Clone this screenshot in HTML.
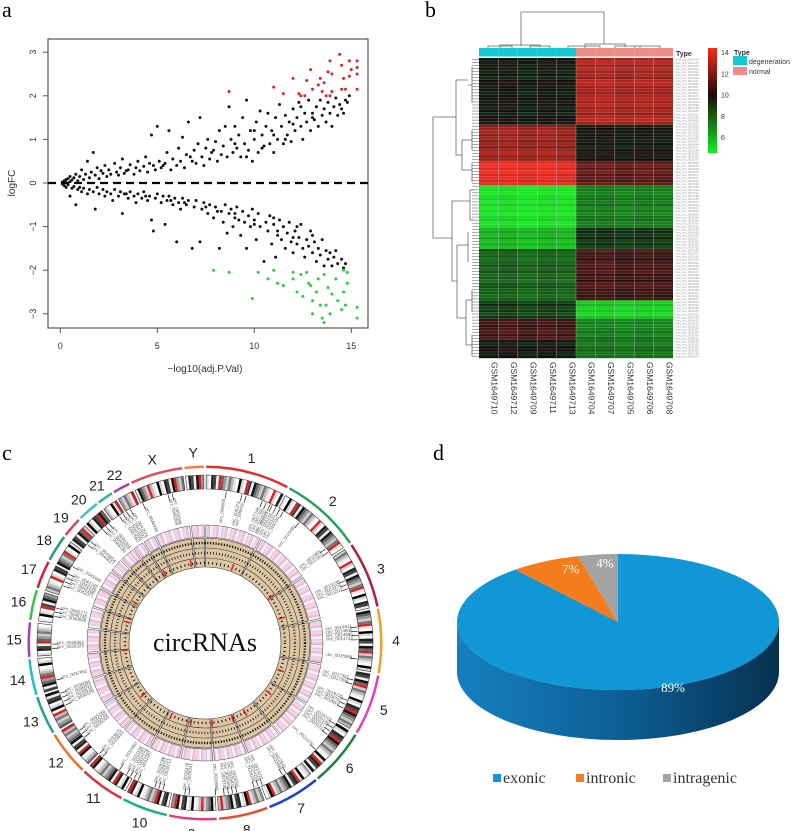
<!DOCTYPE html>
<html><head><meta charset="utf-8"><style>
html,body{margin:0;padding:0;background:#fff;}
svg{display:block;}
text{font-family:"Liberation Sans",sans-serif;}
text.serif{font-family:"Liberation Serif",serif;}
</style></head><body>
<svg id="fig" width="800" height="831" viewBox="0 0 800 831" xmlns="http://www.w3.org/2000/svg">
<text class="serif" x="2" y="17" font-size="22">a</text>
<text class="serif" x="425" y="17" font-size="22">b</text>
<text class="serif" x="2" y="460" font-size="22">c</text>
<text class="serif" x="433" y="460" font-size="22">d</text>
<g id="pa"></g>
<g id="pb"></g>
<g id="pc"></g>
<g id="pd"></g>
</svg>
<script>
// ---------- Panel a data ----------
const aXTicks=[0,5,10,15];
const aYTicks=[3,2,1,0,-1,-2,-3];
const upPts=[[0.1,0.02],[0.2,0.05],[0.3,0.08],[0.3,0.01],[0.4,0.1],[0.5,0.03],[0.5,0.15],[0.6,0.07],[0.7,0.12],[0.8,0.2],[0.9,0.05],[1.0,0.15],[1.1,0.3],[1.2,0.08],[1.3,0.2],[1.4,0.5],[1.5,0.12],[1.6,0.25],[1.7,0.7],[1.8,0.18],[1.9,0.35],[2.0,0.1],[2.1,0.28],[2.2,0.22],[2.3,0.4],[2.4,0.15],[2.5,0.3],[2.6,0.2],[2.8,0.45],[2.9,0.25],[3.0,0.18],[3.1,0.35],[3.2,0.55],[3.3,0.22],[3.5,0.3],[3.6,0.42],[3.8,0.2],[3.9,0.35],[4.0,0.5],[4.1,0.28],[4.3,0.38],[4.4,0.6],[4.5,0.25],[4.7,1.1],[4.8,0.4],[4.9,0.3],[5.0,1.3],[5.1,0.5],[5.2,0.35],[5.4,0.45],[5.5,0.7],[5.6,1.2],[5.7,0.3],[5.8,0.55],[6.0,0.4],[6.1,0.8],[6.2,0.5],[6.3,1.05],[6.4,0.35],[6.5,0.65],[6.6,1.4],[6.8,0.5],[6.9,0.75],[7.0,0.45],[7.1,0.9],[7.2,1.5],[7.3,0.6],[7.4,0.4],[7.5,0.8],[7.6,1.0],[7.7,0.55],[7.8,0.7],[8.0,0.95],[8.1,0.5],[8.2,1.2],[8.3,0.65],[8.4,0.85],[8.5,1.3],[8.6,0.6],[8.7,1.75],[8.8,1.0],[8.9,0.7],[9.0,1.3],[9.1,0.8],[9.2,1.1],[9.3,0.6],[9.4,1.5],[9.5,0.9],[9.6,1.9],[9.7,0.75],[9.8,1.2],[9.9,0.5],[10.0,1.0],[10.1,1.4],[10.2,0.7],[10.3,1.65],[10.4,1.1],[10.5,0.85],[10.6,1.3],[10.7,1.6],[10.8,0.9],[10.9,1.2],[11.0,0.7],[11.1,1.5],[11.2,1.0],[11.3,1.8],[11.4,1.3],[11.5,0.9],[11.6,1.55],[11.7,1.1],[11.8,1.4],[11.9,0.95],[12.0,1.7],[12.1,1.2],[12.2,1.5],[12.3,1.85],[12.4,1.3],[12.5,1.0],[12.6,1.6],[12.7,1.4],[12.8,1.9],[12.9,1.2],[13.0,1.6],[13.1,1.45],[13.2,1.75],[13.3,1.3],[13.4,1.9],[13.5,1.55],[13.6,1.7],[13.7,1.4],[13.8,1.85],[13.9,1.6],[14.0,1.3],[14.1,1.75],[14.2,1.95],[14.3,1.55],[14.4,1.8],[14.5,1.7],[14.6,1.6],[14.7,1.9],[14.8,1.85],[14.9,2.0],[11.6,1.0],[12.4,1.75],[10.4,0.8],[9.6,0.6],[3.4,0.28],[4.6,0.45],[5.3,0.4],[6.7,0.6],[7.9,0.75],[9.0,0.9],[10.0,1.2],[11.0,1.1],[12.0,1.35],[13.0,1.5]];
const downPts=[[0.1,-0.02],[0.2,-0.06],[0.3,-0.1],[0.4,-0.04],[0.5,-0.3],[0.6,-0.12],[0.7,-0.08],[0.8,-0.5],[0.9,-0.15],[1.0,-0.1],[1.1,-0.2],[1.2,-0.12],[1.4,-0.25],[1.5,-0.15],[1.7,-0.2],[1.8,-0.6],[1.9,-0.1],[2.0,-0.25],[2.2,-0.15],[2.3,-0.3],[2.4,-0.2],[2.6,-0.25],[2.7,-0.4],[2.8,-0.15],[3.0,-0.3],[3.1,-0.2],[3.2,-0.7],[3.3,-0.25],[3.5,-0.35],[3.6,-0.2],[3.8,-0.3],[3.9,-0.45],[4.0,-0.25],[4.2,-0.35],[4.3,-0.2],[4.5,-0.4],[4.6,-0.3],[4.7,-0.85],[4.8,-1.1],[4.9,-0.35],[5.0,-0.25],[5.2,-0.45],[5.3,-0.3],[5.4,-0.95],[5.5,-0.4],[5.6,-0.3],[5.8,-0.5],[5.9,-0.35],[6.0,-1.35],[6.1,-0.45],[6.2,-0.6],[6.3,-0.35],[6.5,-0.5],[6.6,-0.4],[6.8,-1.5],[6.9,-0.55],[7.0,-0.4],[7.2,-1.35],[7.3,-0.6],[7.4,-0.45],[7.6,-0.7],[7.7,-0.5],[7.9,-0.8],[8.0,-0.55],[8.2,-1.5],[8.3,-0.65],[8.4,-0.9],[8.5,-0.5],[8.6,-1.15],[8.7,-0.7],[8.8,-0.6],[8.9,-1.0],[9.0,-0.7],[9.1,-0.55],[9.2,-0.85],[9.3,-1.2],[9.4,-0.65],[9.5,-0.9],[9.6,-1.5],[9.7,-0.75],[9.8,-1.0],[9.9,-0.6],[10.0,-0.85],[10.1,-1.3],[10.2,-0.7],[10.3,-1.0],[10.5,-1.8],[10.6,-0.9],[10.7,-1.1],[10.8,-0.75],[10.9,-1.4],[11.0,-0.95],[11.1,-1.7],[11.2,-1.1],[11.3,-0.85],[11.4,-1.3],[11.5,-1.0],[11.6,-1.5],[11.7,-1.15],[11.8,-0.9],[11.9,-1.35],[12.0,-1.6],[12.1,-1.1],[12.2,-1.4],[12.3,-1.25],[12.4,-0.95],[12.5,-1.5],[12.6,-1.7],[12.7,-1.3],[12.8,-1.45],[12.9,-1.1],[13.0,-1.6],[13.1,-1.35],[13.2,-1.8],[13.3,-1.5],[13.4,-1.65],[13.5,-1.3],[13.6,-1.9],[13.7,-1.55],[13.8,-1.75],[13.9,-1.6],[14.0,-1.9],[14.1,-1.7],[14.2,-1.55],[14.3,-1.85],[14.5,-1.75],[14.6,-1.95],[14.7,-1.85],[12.2,-1.0],[11.0,-0.8],[13.0,-1.2],[3.4,-0.25],[4.4,-0.3],[5.7,-0.4],[6.4,-0.45],[7.5,-0.55],[8.1,-0.65],[9.0,-0.8],[10.0,-0.95],[11.2,-1.2],[12.0,-1.25]];
const redPts=[[8.7,2.1],[11,2.2],[11.5,2.05],[12,2.4],[12.4,2.0],[12.6,2.0],[12.7,2.35],[12.9,2.6],[13.0,2.15],[13.3,2.25],[13.4,2.4],[13.5,2.1],[13.6,2.3],[13.8,2.55],[13.9,2.8],[13.9,2.0],[14.0,2.1],[14.0,2.5],[14.4,2.95],[14.5,2.7],[14.5,2.15],[14.6,2.4],[14.7,2.15],[14.9,2.45],[14.9,2.8],[15.0,2.6],[15.3,2.8],[15.3,2.65],[15.3,2.5],[15.3,2.15],[12.3,2.05],[13.7,2.0]];
const greenPts=[[7.9,-2.0],[8.7,-2.05],[9.9,-2.65],[10.2,-2.05],[10.7,-2.2],[11.0,-2.0],[11.2,-2.3],[11.5,-2.35],[12.0,-2.05],[12.0,-2.2],[12.2,-2.5],[12.4,-2.1],[12.5,-2.6],[12.7,-2.05],[12.8,-2.3],[12.9,-2.35],[13.0,-2.7],[13.0,-3.0],[13.2,-2.5],[13.3,-2.2],[13.4,-2.8],[13.5,-3.1],[13.6,-2.1],[13.6,-3.2],[13.7,-2.8],[13.8,-2.4],[13.9,-3.0],[14.0,-2.55],[14.2,-2.2],[14.3,-2.7],[14.5,-2.9],[14.6,-2.5],[14.6,-2.0],[14.7,-2.8],[14.8,-2.3],[14.8,-2.05],[15.3,-2.85],[15.3,-3.1]];
// ---------- Panel b data ----------
const samples=["GSM1649710","GSM1649712","GSM1649709","GSM1649711","GSM1649713","GSM1649704","GSM1649707","GSM1649705","GSM1649706","GSM1649708"];
const blockRows=[22,12,8,14,7,17,6,7,6];
const blockLeft=[9.8,12.3,13.6,5.3,6.3,8.2,9.0,10.8,9.8];
const blockRight=[12.6,9.9,11.3,7.6,9.2,10.8,5.8,7.5,7.8];
const rowJitter=[0,0.3,-0.2,0.4,-0.3,0.1,-0.4,0.2,0.35,-0.15,0.05,-0.35];
const colJitter=[0,0.15,-0.1,0.1,-0.05,0,0.1,-0.1,0.05,-0.05];
const scaleTicks=[14,12,10,8,6];
// ---------- Panel c data ----------
const chroms=["1","2","3","4","5","6","7","8","9","10","11","12","13","14","15","16","17","18","19","20","21","22","X","Y"];
const chromLen=[249,243,198,191,181,171,159,146,141,136,135,133,115,107,102,90,83,80,59,64,47,51,156,57];
const chromCol=["#e0302a","#2aa060","#b0203a","#f0a020","#e040c0","#208040","#2040d0","#e05030","#e0407a","#20b080","#e03040","#f07030","#20a0a0","#20c0d0","#a040c0","#40c040","#d02040","#20a070","#e04050","#40c0d0","#30b0a0","#a040b0","#e05060","#f08040"];
const circGroups=[8,14,22,26,38,52,66,84,96,104,112,122,134,148,158,168,176,186,196,206,214,222,232,246,256,268,280,292,300,310,318,326,336,346];
// ---------- Panel d data ----------
const pieLabels=["exonic","intronic","intragenic"];
const pieValues=[89,7,4];
const pieColors=["#1196d6","#f57c1c","#a3a3a3"];

const NS="http://www.w3.org/2000/svg";
function el(tag,attrs,parent){const e=document.createElementNS(NS,tag);for(const k in attrs)e.setAttribute(k,attrs[k]);parent.appendChild(e);return e;}

// ===== Panel a =====
(function(){
const g=document.getElementById('pa');
const X0=48,X1=368,Y0=39,Y1=328;
const sx=v=>60.3+v*19.4, sy=v=>183-v*43.6;
let r=el('rect',{x:X0,y:Y0,width:X1-X0,height:Y1-Y0,fill:'none',stroke:'#555','stroke-width':1.2},g);

aXTicks.forEach(t=>{el('line',{x1:sx(t),x2:sx(t),y1:Y1,y2:Y1+5,stroke:'#555'},g);
 const tx=el('text',{x:sx(t),y:349,'font-size':9,'text-anchor':'middle',fill:'#333'},g);tx.textContent=t;
 });
aYTicks.forEach(t=>{el('line',{x1:X0-5,x2:X0,y1:sy(t),y2:sy(t),stroke:'#555'},g);
 const tx=el('text',{x:36,y:sy(t),'font-size':9,'text-anchor':'middle',fill:'#333',transform:`rotate(-90 36 ${sy(t)})`},g);tx.textContent=String(t).replace('-','−');
 });
let xl=el('text',{x:205,y:372,'font-size':10,'text-anchor':'middle',fill:'#333'},g);xl.textContent='−log10(adj.P.Val)';

let yl=el('text',{x:15,y:183,'font-size':10,'text-anchor':'middle',fill:'#333',transform:'rotate(-90 15 183)'},g);yl.textContent='logFC';

const draw=(pts,col,name)=>pts.forEach(p=>{const c=el('circle',{cx:sx(p[0]),cy:sy(p[1]),r:1.5,fill:col},g);
 });
draw(upPts,'#111','point-up');draw(downPts,'#111','point-down');
draw(redPts,'#e0202a','point-upregulated');draw(greenPts,'#22d040','point-downregulated');
let dl=el('line',{x1:X0,x2:X1,y1:sy(0),y2:sy(0),stroke:'#000','stroke-width':2.2,'stroke-dasharray':'8 5'},g);

})();

// ===== Panel b =====
(function(){
const g=document.getElementById('pb');
const HX=479,HW=194,HY=58,HH=300,cw=HW/10;
const nRows=blockRows.reduce((a,b)=>a+b,0), rh=HH/nRows;
function col(v){v=Math.max(5,Math.min(14,v));
 if(v>=10){const t=(v-10)/4;return `rgb(${Math.round(20+t*230)},${Math.round(15+t*30)},${Math.round(15+t*20)})`;}
 const t=(10-v)/5;return `rgb(${Math.round(15+t*10)},${Math.round(15+t*225)},${Math.round(15+t*20)})`;}
let row=0;
blockRows.forEach((n,b)=>{for(let i=0;i<n;i++){
 for(let c=0;c<10;c++){const base=c<5?blockLeft[b]:blockRight[b];
  const v=base+rowJitter[(row+b)%rowJitter.length]+colJitter[c];
  const rc=el('rect',{x:HX+c*cw,y:HY+row*rh,width:cw,height:rh+0.2,fill:col(v)},g);
  }
 const lt=el('text',{x:676,y:HY+row*rh+rh*0.9,'font-size':2.8,fill:'#999'},g);lt.textContent='hsa_circ_00'+(10000+row*173);
 
 el('line',{x1:472,x2:HX,y1:HY+(row+0.5)*rh,y2:HY+(row+0.5)*rh,stroke:'#555','stroke-width':0.5},g);
 row++;}});
for(let r=1;r<nRows;r++)el('line',{x1:HX,x2:HX+HW,y1:HY+r*rh,y2:HY+r*rh,stroke:'rgba(200,200,200,0.35)','stroke-width':0.5},g);
for(let c=1;c<10;c++)el('line',{x1:HX+c*cw,x2:HX+c*cw,y1:HY,y2:HY+HH,stroke:'rgba(200,200,200,0.5)','stroke-width':0.6},g);
for(let c=0;c<10;c++){const t=el('rect',{x:HX+c*cw,y:48,width:cw,height:8.5,fill:c<5?'#14c8d4':'#f08c88'},g);
 
 const s=el('text',{x:0,y:0,'font-size':8.5,fill:'#333',transform:`translate(${HX+c*cw+cw/2+3},362) rotate(90)`},g);s.textContent=samples[c];
 }
let tt=el('text',{x:676,y:56,'font-size':7,'font-weight':'bold',fill:'#333'},g);tt.textContent='Type';

const dp='#666';
const P=(d)=>el('path',{d,fill:'none',stroke:dp,'stroke-width':0.8},g);
P(`M521 46 V12 H604 V44`);
P(`M500 48 V45 H540 V47 M488 48 V46 H512 V48 M530 48 V46 H550 V48`);
P(`M585 48 V44 H625 V47 M568 48 V46 H600 V48 M615 48 V46 H640 V48 M635 48 V46 H660 V48`);
P(`M456 117 H433 V238 H452`);
P(`M468 80 H456 V155 H462`);
P(`M472 67 V103 M468 85 H472 M462 140 V170 M462 140 H472 M462 170 H472 M472 130 V150 M472 163 V182`);
P(`M470 201 H452 V281 H457`);
P(`M470 190 V220 M470 190 H474 M470 220 H474 M457 245 V318 M457 245 H468 M457 318 H466`);
P(`M468 232 V262 M466 300 V345 M466 300 H472 M466 345 H472 M472 290 V312 M472 335 V356`);
const grad=el('linearGradient',{id:'hmg',x1:0,y1:0,x2:0,y2:1},el('defs',{},g));
[['0','#ff2a1a'],['0.45','#1a0a0a'],['1','#10f020']].forEach(s=>el('stop',{offset:s[0],'stop-color':s[1]},grad));
let sb=el('rect',{x:708,y:48,width:9,height:105,fill:'url(#hmg)'},g);

scaleTicks.forEach((t,i)=>{const s=el('text',{x:721,y:55+i*21.3,'font-size':7,fill:'#333'},g);s.textContent=t;
 });
let lg=el('text',{x:734,y:55,'font-size':7,'font-weight':'bold',fill:'#333'},g);lg.textContent='Type';

let s1=el('rect',{x:733,y:56,width:14,height:9,fill:'#14c8d4'},g);
let s2=el('rect',{x:733,y:67,width:14,height:8,fill:'#f08c88'},g);
let l1=el('text',{x:749,y:64,'font-size':7,fill:'#333'},g);l1.textContent='degeneration';
let l2=el('text',{x:749,y:74,'font-size':7,fill:'#333'},g);l2.textContent='normal';
})();

// ===== Panel c =====
(function(){
const g=document.getElementById('pc');
const cx=205,cy=643;
const total=chromLen.reduce((a,b)=>a+b,0), gap=0.8, span=360-gap*chromLen.length;
const pt=(a,r)=>[cx+r*Math.sin(a*Math.PI/180),cy-r*Math.cos(a*Math.PI/180)];
function arc(a0,a1,r0,r1){const [x0,y0]=pt(a0,r1),[x1,y1]=pt(a1,r1),[x2,y2]=pt(a1,r0),[x3,y3]=pt(a0,r0);const lg=(a1-a0)>180?1:0;
 return `M${x0} ${y0} A${r1} ${r1} 0 ${lg} 1 ${x1} ${y1} L${x2} ${y2} A${r0} ${r0} 0 ${lg} 0 ${x3} ${y3}Z`;}
const bandShades=['#d8d8d8','#111','#bbb','#fff','#666','#e8e8e8','#222','#999','#fff','#444','#ccc','#000','#eee','#777'];
const heatShades=['#f7d0da','#e8c4e8','#fbe6ec','#dcd0f2','#f4b0c4','#fff','#d0c8f0','#f8dae2','#e8a8c0','#fdf0f2'];
let a=0.4;
chromLen.forEach((L,i)=>{const a1=a+L/total*span;
 const oa=el('path',{d:arc(a,a1,175,177.5),fill:chromCol[i]},g);
 const nb=Math.max(6,Math.round(L/8));const bw=(a1-a)/nb;
 for(let k=0;k<nb;k++){const sh=(i===0&&k===nb-4)||(k%11===5)?'#e02020':bandShades[(k*3+i*5)%bandShades.length];
  el('path',{d:arc(a+k*bw,a+(k+1)*bw,154,168),fill:sh},g);}
 el('path',{d:arc(a,a1,154,168),fill:'none',stroke:'#333','stroke-width':0.6},g);
 const hb=Math.max(6,Math.round(L/4));const hw=(a1-a)/hb;
 for(let k=0;k<hb;k++)el('path',{d:arc(a+k*hw,a+(k+1)*hw,106,118),fill:heatShades[(k*7+i*3)%heatShades.length]},g);
 el('path',{d:arc(a,a1,106,118),fill:'none',stroke:'#444','stroke-width':0.5},g);
 const tr=el('path',{d:arc(a,a1,76,105),fill:'#dcc6a4',stroke:'#333','stroke-width':0.6},g);
 
 [85,95].forEach(r=>el('path',{d:arc(a,a1,r-0.3,r+0.3),fill:'#333'},g));
 const m=(a+a1)/2;const [lx,ly]=pt(m,191);
 const t=el('text',{x:lx,y:ly+5,'font-size':14,'text-anchor':'middle',fill:'#222'},g);t.textContent=chroms[i];
 
 a=a1+gap;});
[[100,'1.2 1.6'],[90,'0.8 2.2'],[80,'1 3']].forEach(s=>el('circle',{cx,cy,r:s[0],fill:'none',stroke:'#111','stroke-width':2.4,'stroke-dasharray':s[1]},g));
[20,55,72,110,128,150,160,175,190,205,230,265,285,300,330,350].forEach(ang=>{const [x0,y0]=pt(ang,77),[x1,y1]=pt(ang,84);
 el('line',{x1:x0,y1:y0,x2:x1,y2:y1,stroke:'#e02020','stroke-width':1.5},g);});
circGroups.forEach((ang,i)=>{const n=1+(i%4);for(let k=0;k<n;k++){const an=ang+k*1.6;
 const [x,y]=pt(an,121);const rot=an<180?an-90:an+90;
 const t=el('text',{x,y,'font-size':4.5,fill:'#555','text-anchor':an<180?'start':'end',transform:`rotate(${rot} ${x} ${y})`},g);
 t.textContent='circ_00'+(5000+i*1373+k*37);
 
 const [p0x,p0y]=pt(an,146),[p1x,p1y]=pt(an,153);el('line',{x1:p0x,y1:p0y,x2:p1x,y2:p1y,stroke:'#222','stroke-width':0.7},g);}});
const ct=el('text',{x:cx,y:cy+8,'font-size':26,'text-anchor':'middle',fill:'#111',class:'serif'},g);ct.textContent='circRNAs';

})();

// ===== Panel d =====
(function(){
const g=document.getElementById('pd');
const cx=618,cy=622,rx=161,ry=68,depth=50;
const defs=el('defs',{},g);
const lg=el('linearGradient',{id:'side',x1:0,y1:0,x2:1,y2:0},defs);
[['0','#1580c0'],['0.5','#0d5f96'],['1','#06314f']].forEach(s=>el('stop',{offset:s[0],'stop-color':s[1]},lg));
let side=el('path',{d:`M${cx-rx} ${cy} A${rx} ${ry} 0 0 0 ${cx+rx} ${cy} V${cy+depth} A${rx} ${ry} 0 0 1 ${cx-rx} ${cy+depth}Z`,fill:'url(#side)'},g);

const tot=pieValues.reduce((a,b)=>a+b,0);
const P=a=>[cx+rx*Math.sin(a),cy-ry*Math.cos(a)];
let a0=0;
pieValues.forEach((v,i)=>{const a1=a0+v/tot*2*Math.PI;const [x0,y0]=P(a0),[x1,y1]=P(a1);const large=(a1-a0)>Math.PI?1:0;
 const s=el('path',{d:`M${cx} ${cy} L${x0} ${y0} A${rx} ${ry} 0 ${large} 1 ${x1} ${y1}Z`,fill:pieColors[i]},g);
 
 const m=(a0+a1)/2;const rr=i===0?0.55:0.72;const lx=cx+rx*rr*Math.sin(m)*(i===0?1:0.9),ly=cy-ry*rr*Math.cos(m)*(i===0?1:1.2);
 const t=el('text',{x:i===0?673:lx,y:(i===0?688:ly)+4,'font-size':13,'text-anchor':'middle',fill:'#fff',class:'serif'},g);
 t.textContent=v+'%';
 a0=a1;});
const lx=[493,576,663];
pieLabels.forEach((l,i)=>{const sq=el('rect',{x:lx[i],y:774,width:8,height:8,fill:pieColors[i]},g);
 
 const t=el('text',{x:lx[i]+10,y:783,'font-size':16,fill:'#333',class:'serif'},g);t.textContent=l;
 });
})();
</script>
</body></html>
